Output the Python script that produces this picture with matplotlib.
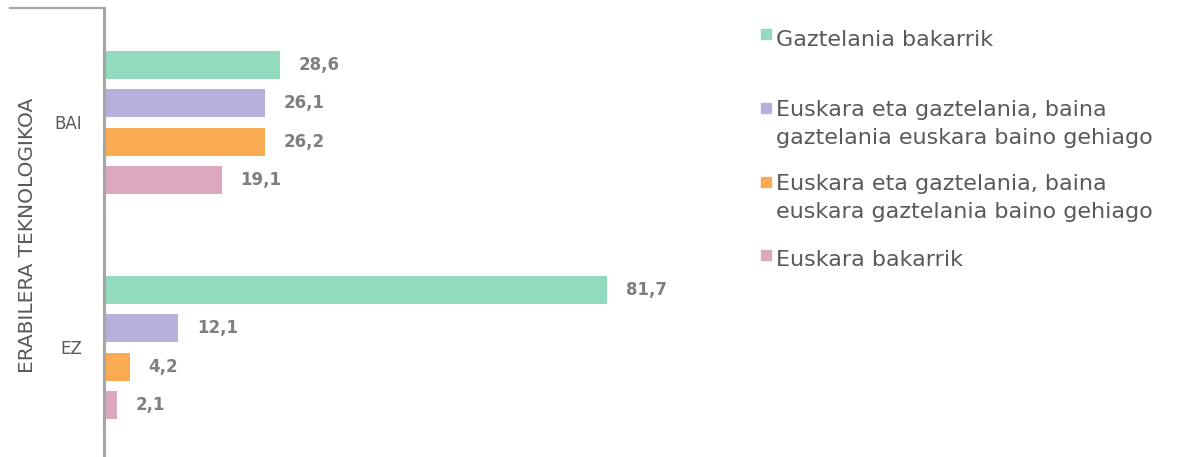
import matplotlib.pyplot as plt
import numpy as np

# datuak
kategoriak = ['BAI', 'EZ']
seriak = ['Gaztelania bakarrik',
          'Euskara eta gaztelania, baina\ngaztelania euskara baino gehiago',
          'Euskara eta gaztelania, baina\neuskara gaztelania baino gehiago',
          'Euskara bakarrik']
balioak = [
    [28.6, 81.7],
    [26.1, 12.1],
    [26.2, 4.2],
    [19.1, 2.1],
]
koloreak = ['#92dbbe', '#b8b0dc', '#f9ab53', '#dba8c0']

W, H = 1182, 457
fig = plt.figure(figsize=(W / 100, H / 100), dpi=100)
plt.rcParams['font.family'] = ['DejaVu Sans']

# ardatzak: ezkerra 104px, 1 unitate = 6.157px
left = 104 / W
width = 615.7 / W
ax = fig.add_axes([left, 0, width, 1 - 8 / H])

y = np.arange(len(kategoriak))
desp = 38.5 / 225
for i, (izena, bal) in enumerate(zip(seriak, balioak)):
    pos = y + (i - 1.5) * desp
    bars = ax.barh(pos, bal, height=28 / 225, color=koloreak[i], label=izena)
    for b, v in zip(bars, bal):
        ax.annotate(f'{v:.1f}'.replace('.', ','),
                    (b.get_width(), b.get_y() + b.get_height() / 2),
                    xytext=(13.5, 0), textcoords='offset points',
                    ha='left', va='center', fontsize=12, fontweight='bold',
                    color='#7f7f7f')

ax.set_xlim(0, 100)
ax.set_ylim(1 + (457 - 347.5) / 225, -(122.5 - 8) / 225)
ax.set_yticks(y)
ax.set_yticklabels(kategoriak, fontsize=12, color='#595959')
ax.tick_params(axis='y', length=0, pad=16)
ax.set_xticks([])
for s in ['top', 'right', 'bottom']:
    ax.spines[s].set_visible(False)
ax.spines['left'].set_color('#a6a6a6')
ax.spines['left'].set_linewidth(2.2)

# goiko lerroa
fig.add_artist(plt.Line2D([10 / W, 105 / W], [1 - 8 / H, 1 - 8 / H],
                          color='#a6a6a6', lw=1.6))

fig.text(28 / W, 1 - 235 / H, 'ERABILERA TEKNOLOGIKOA', rotation=90,
         ha='center', va='center', fontsize=14.5, color='#595959')

# legenda
lauki_y = [29, 103, 177, 250]
testu_y = [30.5, 100.5, 173.5, 250.5]
for izena, kol, ly, ty in zip(seriak, koloreak, lauki_y, testu_y):
    fig.add_artist(plt.Rectangle((761 / W, 1 - (ly + 10) / H), 10 / W, 10 / H,
                                 color=kol, transform=fig.transFigure))
    fig.text(776 / W, 1 - ty / H, izena, ha='left', va='top',
             fontsize=16, color='#595959', linespacing=1.5)

fig.savefig('out.png', dpi=100)
